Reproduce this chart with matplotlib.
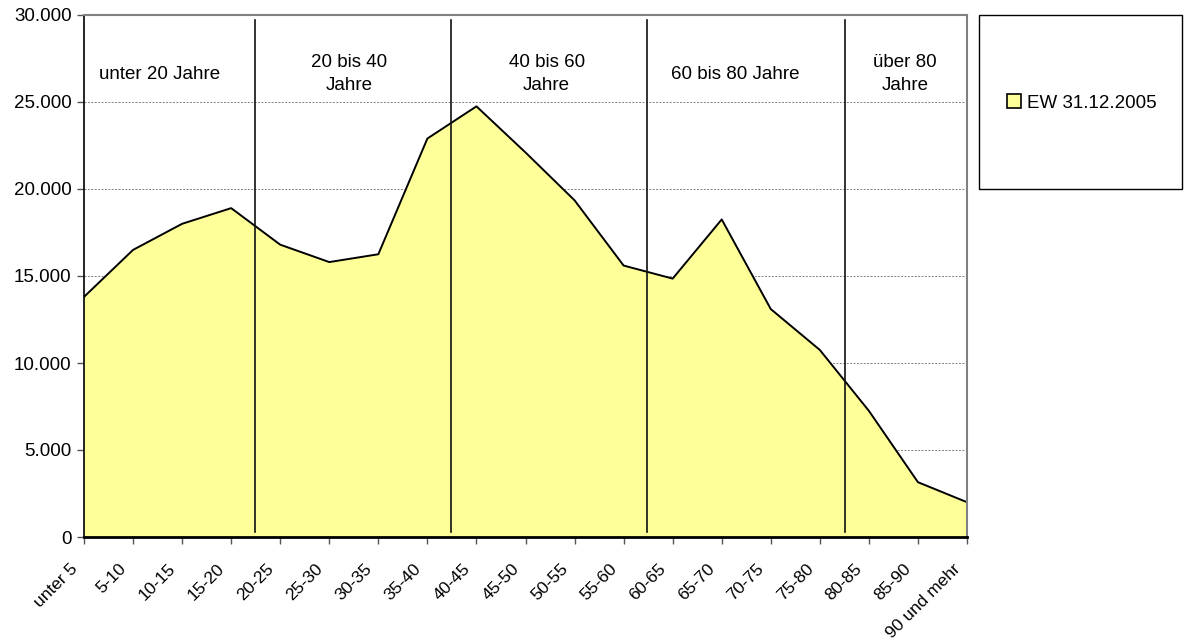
import matplotlib
matplotlib.use("Agg")
import matplotlib.pyplot as plt
from matplotlib.patches import Rectangle, Patch
from matplotlib.ticker import FuncFormatter, MultipleLocator
from matplotlib.transforms import ScaledTranslation

plt.rcParams['font.family'] = ['Liberation Sans', 'DejaVu Sans']

# Einwohner nach Altersgruppen
categories = ["unter 5", "5-10", "10-15", "15-20", "20-25", "25-30", "30-35",
              "35-40", "40-45", "45-50", "50-55", "55-60", "60-65", "65-70",
              "70-75", "75-80", "80-85", "85-90", "90 und mehr"]
residents = [13800, 16500, 18000, 18900, 16800, 15800, 16250,
             22900, 24750, 22100, 19350, 15600, 14850, 18250,
             13100, 10750, 7250, 3150, 2000]
series_label = "EW 31.12.2005"

# Altersbereiche: Trennlinien und Beschriftungen
group_bounds = [3.48, 7.49, 11.47, 15.52]
group_labels = ["unter 20 Jahre", "20 bis 40\nJahre", "40 bis 60\nJahre",
                "60 bis 80 Jahre", "über 80\nJahre"]
group_label_x = [1.55, 5.4, 9.43, 13.28, 16.74]

FS = 13.5
fill_color = "#FFFF99"

fig = plt.figure(figsize=(11.87, 6.44), dpi=100)
ax = fig.add_axes([84 / 1187, 107 / 644, (967 - 84) / 1187, (537 - 15) / 644])

x = list(range(len(categories)))
ax.fill_between(x, residents, 0, facecolor=fill_color, edgecolor="none", zorder=2)
ax.plot(x, residents, color="black", lw=1.4, zorder=3)
ax.plot([x[-1], x[-1]], [0, residents[-1]], color="black", lw=1.4, zorder=3)

ax.set_xlim(0, len(categories) - 1)
ax.set_ylim(0, 30000)

ax.yaxis.set_major_locator(MultipleLocator(5000))
ax.yaxis.set_major_formatter(FuncFormatter(lambda v, p: f"{int(v):,}".replace(",", ".")))
ax.grid(axis="y", color="#808080", ls=(0, (2, 1.5)), lw=0.7, zorder=1)

ax.set_xticks(x)
ax.set_xticklabels(categories, rotation=45, ha="right", va="center",
                   rotation_mode="anchor", fontsize=12.5)
ax.tick_params(axis="y", labelsize=FS, length=5, width=1, color="#555555", pad=4)
ax.tick_params(axis="x", length=5, width=1, color="#555555", pad=16)
shift = ScaledTranslation(-9 / 100, 0, fig.dpi_scale_trans)
for lbl in ax.get_xticklabels():
    lbl.set_transform(lbl.get_transform() + shift)

for b in group_bounds:
    ax.axvline(b, ymin=0.009, ymax=0.99, color="#111111", lw=1.2, zorder=4)

for lx, lab in zip(group_label_x, group_labels):
    ax.text(lx, 26600, lab, ha="center", va="center", fontsize=FS,
            linespacing=1.5, zorder=5)

for side in ("top", "right"):
    ax.spines[side].set_color("#808080")
    ax.spines[side].set_linewidth(1.5)
ax.spines["left"].set_color("black")
ax.spines["left"].set_linewidth(1.2)
ax.spines["bottom"].set_color("black")
ax.spines["bottom"].set_linewidth(2.0)
for s in ax.spines.values():
    s.set_zorder(6)

# Legendenkasten rechts
fig.patches.append(Rectangle((979 / 1187, 1 - 189 / 644), (1182 - 979) / 1187,
                             (189 - 15) / 644, transform=fig.transFigure,
                             facecolor="white", edgecolor="black", lw=1))
handle = Patch(facecolor=fill_color, edgecolor="black", lw=1.2)
fig.legend([handle], [series_label], loc="center",
           bbox_to_anchor=(1082 / 1187, 1 - 103 / 644), frameon=False,
           fontsize=FS, handlelength=0.75, handleheight=0.75, handletextpad=0.3)

fig.savefig("out.png", dpi=100)
